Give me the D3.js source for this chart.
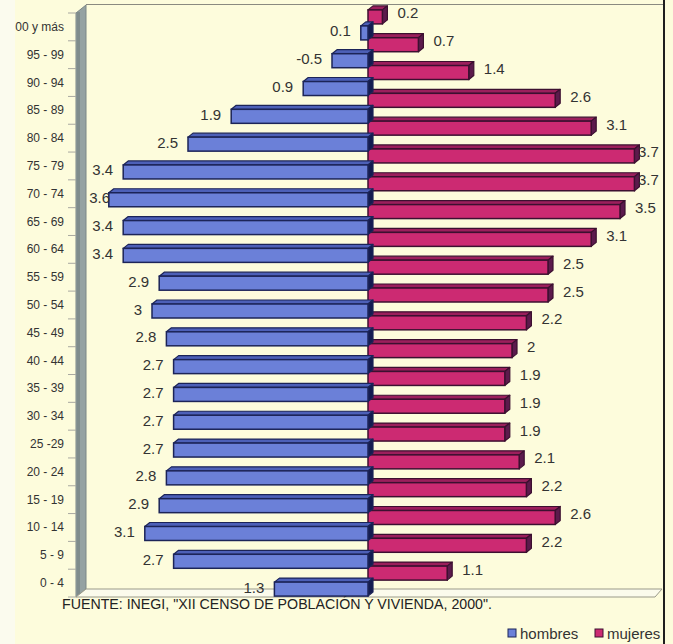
<!DOCTYPE html>
<html>
<head>
<meta charset="utf-8">
<script src="https://cdn.jsdelivr.net/npm/d3@7"></script>
<style>
  html, body { margin: 0; padding: 0; background: #fdfcdc; }
  svg { display: block; }
  text { font-family: "Liberation Sans", Arial, sans-serif; }
</style>
</head>
<body>
<svg id="chart" width="673" height="644"></svg>
<script>
// ---- data ----
const categories = ["00 y más", "95 - 99", "90 - 94", "85 - 89", "80 - 84", "75 - 79", "70 - 74",
  "65 - 69", "60 - 64", "55 - 59", "50 - 54", "45 - 49", "40 - 44", "35 - 39", "30 - 34",
  "25 -29", "20 - 24", "15 - 19", "10 - 14", "5 - 9", "0 - 4"];
const hombres = [0.1, 0.5, 0.9, 1.9, 2.5, 3.4, 3.6, 3.4, 3.4, 2.9, 3.0, 2.8, 2.7, 2.7, 2.7, 2.7, 2.8, 2.9, 3.1, 2.7, 1.3];
const hombresEtiquetas = ["0.1", "-0.5", "0.9", "1.9", "2.5", "3.4", "3.6", "3.4", "3.4", "2.9", "3", "2.8",
  "2.7", "2.7", "2.7", "2.7", "2.8", "2.9", "3.1", "2.7", "1.3"];
const mujeres = [0.2, 0.7, 1.4, 2.6, 3.1, 3.7, 3.7, 3.5, 3.1, 2.5, 2.5, 2.2, 2.0, 1.9, 1.9, 1.9, 2.1, 2.2, 2.6, 2.2, 1.1];
const mujeresEtiquetas = ["0.2", "0.7", "1.4", "2.6", "3.1", "3.7", "3.7", "3.5", "3.1", "2.5", "2.5", "2.2",
  "2", "1.9", "1.9", "1.9", "2.1", "2.2", "2.6", "2.2", "1.1"];
const seriesNames = ["hombres", "mujeres"];
const fuente = "FUENTE: INEGI, \"XII CENSO DE POBLACIÓN Y VIVIENDA, 2000\".";

// ---- setup ----
const svg = d3.select("#chart");
const W = 673, H = 644;
const colors = {
  bg: "#fdfcdc",
  maleFront: "#6b80d8", maleTop: "#4d60b8", maleSide: "#141c50", maleStroke: "#1c2458",
  femFront: "#cc2a72", femTop: "#9c1f5c", femSide: "#5c1a4c", femStroke: "#3c1030",
  text: "#333333"
};

svg.append("rect").attr("width", W).attr("height", H).attr("fill", colors.bg);
svg.append("rect").attr("x", 0).attr("y", 0).attr("width", 15).attr("height", H).attr("fill", "#fbfbee");

const x = d3.scaleLinear().domain([-4, 4]).range([80, 656]);
const y = d3.scaleBand().domain(categories).range([13, 597]).paddingInner(0).paddingOuter(0);
const dx = 5, dy = 4, fh = 14;

// ---- walls ----
const wallL = 76, wallR = 86, floorBack = 589, floorFront = 597;
svg.append("polygon")
  .attr("points", [[wallL, 13], [wallR, 5], [wallR, floorBack], [wallL, floorFront]].map(p => p.join(",")).join(" "))
  .attr("fill", "#95a2a2").attr("stroke", "#7a8686").attr("stroke-width", 1);
svg.append("rect").attr("x", wallL + 1).attr("y", 12).attr("width", 3).attr("height", floorFront - 14).attr("fill", "#7f8c8c");
svg.append("polygon")
  .attr("points", [[wallR, floorBack], [662, floorBack], [655, floorFront], [wallL, floorFront]].map(p => p.join(",")).join(" "))
  .attr("fill", "#fbfbec").attr("stroke", "#9a9a8a").attr("stroke-width", 1);
svg.append("line").attr("x1", wallR).attr("x2", 664).attr("y1", 4.5).attr("y2", 4.5)
  .attr("stroke", "#8a8a80").attr("stroke-width", 1);
svg.append("line").attr("x1", 664).attr("x2", 664).attr("y1", 0).attr("y2", H)
  .attr("stroke", "#1e1e1e").attr("stroke-width", 2);

// category ticks
const bounds = categories.map(c => y(c)).concat([y.range()[1]]);
svg.append("g").selectAll("line").data(bounds).join("line")
  .attr("x1", 68).attr("x2", wallL).attr("y1", d => d).attr("y2", d => d)
  .attr("stroke", "#a8a8a0").attr("stroke-width", 1);

// category labels
svg.append("g").selectAll("text").data(categories).join("text")
  .attr("x", 64).attr("y", c => y(c) + y.bandwidth() / 2)
  .attr("text-anchor", "end").attr("dominant-baseline", "central")
  .attr("font-size", 12).attr("fill", colors.text)
  .text(c => c);

// ---- 3D bars ----
function bar3d(g, x0, x1, yTop, front, top, side, stroke) {
  const pts = a => a.map(p => p.join(",")).join(" ");
  g.append("polygon").attr("points", pts([[x0, yTop], [x0 + dx, yTop - dy], [x1 + dx, yTop - dy], [x1, yTop]]))
    .attr("fill", top).attr("stroke", stroke).attr("stroke-width", 1.2).attr("stroke-linejoin", "round");
  g.append("polygon").attr("points", pts([[x1, yTop], [x1 + dx, yTop - dy], [x1 + dx, yTop + fh - dy], [x1, yTop + fh]]))
    .attr("fill", side).attr("stroke", stroke).attr("stroke-width", 1.2).attr("stroke-linejoin", "round");
  g.append("rect").attr("x", x0).attr("y", yTop).attr("width", Math.max(0, x1 - x0)).attr("height", fh)
    .attr("fill", front).attr("stroke", stroke).attr("stroke-width", 1.5);
}

const center = c => y(c) + y.bandwidth() / 2;

const gFem = svg.append("g");
categories.forEach((c, i) => {
  const L = center(c);
  bar3d(gFem, x(0), x(mujeres[i]), L - 17, colors.femFront, colors.femTop, colors.femSide, colors.femStroke);
});
const gMale = svg.append("g");
categories.forEach((c, i) => {
  const L = center(c);
  bar3d(gMale, x(-hombres[i]), x(0), L - 1, colors.maleFront, colors.maleTop, colors.maleSide, colors.maleStroke);
});

// value labels
svg.append("g").selectAll("text").data(categories).join("text")
  .attr("x", (c, i) => Math.max(x(-hombres[i]) - 10, 110))
  .attr("y", c => center(c) + 4)
  .attr("text-anchor", "end").attr("dominant-baseline", "central")
  .attr("font-size", 15).attr("fill", colors.text)
  .text((c, i) => hombresEtiquetas[i]);
svg.append("g").selectAll("text").data(categories).join("text")
  .attr("x", (c, i) => Math.min(x(mujeres[i]) + 15, 638))
  .attr("y", c => center(c) - 14)
  .attr("text-anchor", "start").attr("dominant-baseline", "central")
  .attr("font-size", 15).attr("fill", colors.text)
  .text((c, i) => mujeresEtiquetas[i]);

// footer
svg.append("text").attr("x", 62).attr("y", 609)
  .attr("font-size", 14).attr("fill", "#222")
  .attr("textLength", 430).attr("lengthAdjust", "spacingAndGlyphs")
  .text(fuente);

// legend
const legend = svg.append("g");
const legItems = [
  { name: seriesNames[0], fill: colors.maleFront, stroke: colors.maleStroke, x: 508 },
  { name: seriesNames[1], fill: colors.femFront, stroke: colors.femStroke, x: 595 }
];
legItems.forEach(d => {
  legend.append("rect").attr("x", d.x).attr("y", 629).attr("width", 8).attr("height", 8)
    .attr("fill", d.fill).attr("stroke", d.stroke).attr("stroke-width", 1);
  legend.append("text").attr("x", d.x + 12).attr("y", 633).attr("dominant-baseline", "central")
    .attr("font-size", 15).attr("fill", colors.text).text(d.name);
});
</script>
</body>
</html>
